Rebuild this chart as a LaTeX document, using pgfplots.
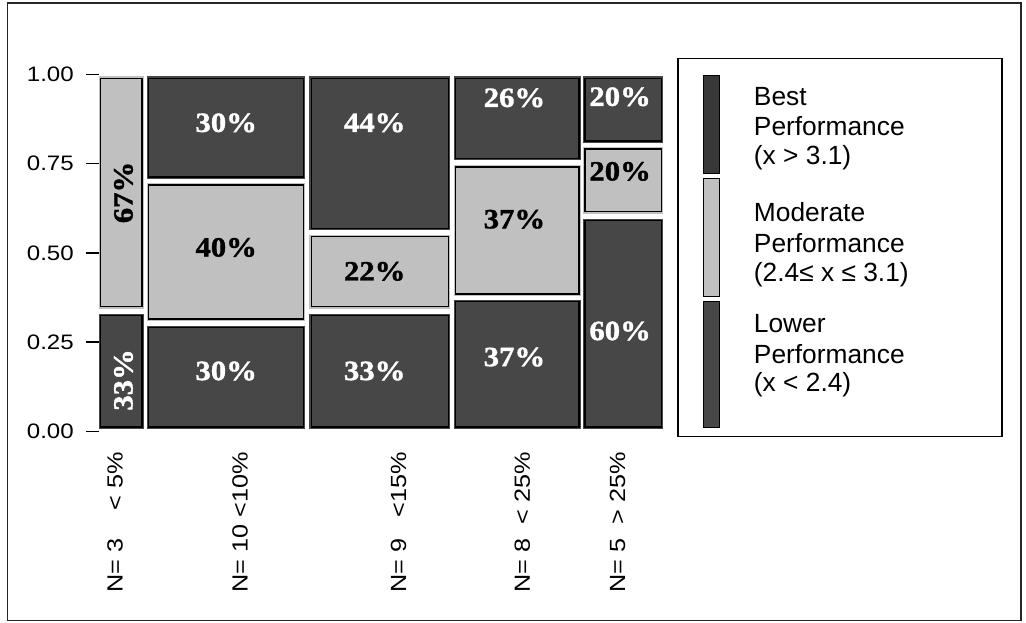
\documentclass[border=0pt]{standalone}
\usepackage{graphicx}
\usepackage{fontspec}
\setmainfont{Liberation Sans}
\newfontfamily\tickfont[FakeStretch=1.15]{Liberation Sans}
\newfontfamily\tilefont[FakeBold=1.2]{Liberation Serif Bold}
\newfontfamily\legfont{Liberation Sans}
\usepackage{pgfplots}
\pgfplotsset{compat=1.18}
\definecolor{darkfill}{HTML}{474747}
\definecolor{lightfill}{HTML}{C0C0C0}
\definecolor{legdark}{HTML}{383838}
\newcommand{\tile}[5]{\addplot[fill=#1, draw=black, line width=1.3pt, line join=miter,
  preaction={draw=#1, line width=3.6pt, line join=miter}] coordinates {(#2,#4) (#3,#4) (#3,#5) (#2,#5)} -- cycle;}
\newcommand{\tl}[5]{\node[font=\tilefont\fontsize{28}{28}\selectfont, text=#1, inner sep=0pt, #4] at (axis cs:#2,#3) {\scalebox{1.1}[1]{#5}};}
\newlength\xlw
\newcommand{\xl}[2]{\makebox[\xlw][l]{#1\hfill#2}}
\newcommand{\TF}{\tickfont\fontsize{21}{21}\selectfont}
\newcommand{\XF}{\tickfont\fontsize{22}{22}\selectfont}
\begin{document}
\settowidth{\xlw}{\XF N= 10 <10\%}
\begin{tikzpicture}
\useasboundingbox (0,0) rectangle (1026pt,624pt);
\draw[line width=1.3pt, black!85] (5pt,2pt) rectangle (1021pt,621pt);
\begin{axis}[
  at={(96.4pt,191.5pt)}, anchor=south west,
  scale only axis, width=567pt, height=358pt,
  xmin=0, xmax=35, ymin=0, ymax=1,
  axis line style={draw=none},
  clip=false,
  ytick={0,0.25,0.5,0.75,1},
  yticklabels={0.00,0.25,0.50,0.75,1.00},
  ytick pos=left,
  tick align=outside,
  major tick length=13pt,
  ytick style={black, line width=1.4pt},
  yticklabel style={font=\TF, anchor=east, inner sep=0pt, xshift=-12pt},
  xtick={1.0,8.73,18.54,26.2,32.1},
  xticklabels={{\xl{N= 3}{< 5\%}},{\xl{N= 10}{<10\%}},{\xl{N= 9}{<15\%}},{\xl{N= 8}{< 25\%}},{\xl{N= 5}{> 25\%}}},
  xtick style={draw=none},
  xticklabel style={font=\XF, rotate=90, anchor=west, inner sep=0pt, xshift=-149pt},
]
% col 1 : N = 3
\tile{darkfill}{0.12}{2.67}{0.012}{0.324}
\tile{lightfill}{0.12}{2.67}{0.349}{0.989}
% col 2 : N = 10
\tile{darkfill}{3.08}{12.67}{0.012}{0.291}
\tile{lightfill}{3.08}{12.67}{0.315}{0.690}
\tile{darkfill}{3.08}{12.67}{0.712}{0.989}
% col 3 : N = 9
\tile{darkfill}{13.14}{21.62}{0.012}{0.324}
\tile{lightfill}{13.14}{21.62}{0.349}{0.545}
\tile{darkfill}{13.14}{21.62}{0.569}{0.989}
% col 4 : N = 8
\tile{darkfill}{22.09}{29.71}{0.012}{0.363}
\tile{lightfill}{22.09}{29.71}{0.385}{0.740}
\tile{darkfill}{22.09}{29.71}{0.765}{0.989}
% col 5 : N = 5
\tile{darkfill}{30.08}{34.83}{0.012}{0.590}
\tile{lightfill}{30.08}{34.83}{0.615}{0.791}
\tile{darkfill}{30.08}{34.83}{0.813}{0.989}
% labels
\tl{black}{1.52}{0.669}{rotate=90}{67\%}
\tl{white}{1.52}{0.144}{rotate=90}{33\%}
\tl{white}{7.88}{0.864}{}{30\%}
\tl{black}{7.88}{0.515}{}{40\%}
\tl{white}{7.88}{0.169}{}{30\%}
\tl{white}{17.07}{0.864}{}{44\%}
\tl{black}{17.07}{0.448}{}{22\%}
\tl{white}{17.07}{0.169}{}{33\%}
\tl{white}{25.72}{0.934}{}{26\%}
\tl{black}{25.72}{0.594}{}{37\%}
\tl{white}{25.72}{0.208}{}{37\%}
\tl{white}{32.26}{0.937}{}{20\%}
\tl{black}{32.26}{0.728}{}{20\%}
\tl{white}{32.26}{0.281}{}{60\%}
\end{axis}
% legend
\begin{axis}[
  at={(677pt,186pt)}, anchor=south west,
  scale only axis, width=325pt, height=379pt,
  xmin=0, xmax=325, ymin=0, ymax=379,
  axis line style={black, line width=1.3pt},
  xtick=\empty, ytick=\empty, clip=false,
]
\addplot[fill=legdark, draw=black, line width=1pt] coordinates {(25.7,263.7) (41.3,263.7) (41.3,362.3) (25.7,362.3)} -- cycle;
\addplot[fill=lightfill, draw=black, line width=1pt] coordinates {(25.7,140.7) (41.3,140.7) (41.3,259.3) (25.7,259.3)} -- cycle;
\addplot[fill=darkfill, draw=black, line width=1pt] coordinates {(25.7,9.7) (41.3,9.7) (41.3,135.3) (25.7,135.3)} -- cycle;
\begin{scope}[every node/.style={anchor=base west, inner sep=0pt, font=\legfont\fontsize{26.4}{30}\selectfont}]
\node at (axis cs:76,332) {Best};
\node at (axis cs:76,302) {Performance};
\node at (axis cs:76,273) {(x > 3.1)};
\node at (axis cs:76,216) {Moderate};
\node at (axis cs:76,185) {Performance};
\node at (axis cs:76,156) {(2.4≤ x ≤ 3.1)};
\node at (axis cs:76,105) {Lower};
\node at (axis cs:76,74) {Performance};
\node at (axis cs:76,45) {(x < 2.4)};
\end{scope}
\end{axis}
\end{tikzpicture}
\end{document}
